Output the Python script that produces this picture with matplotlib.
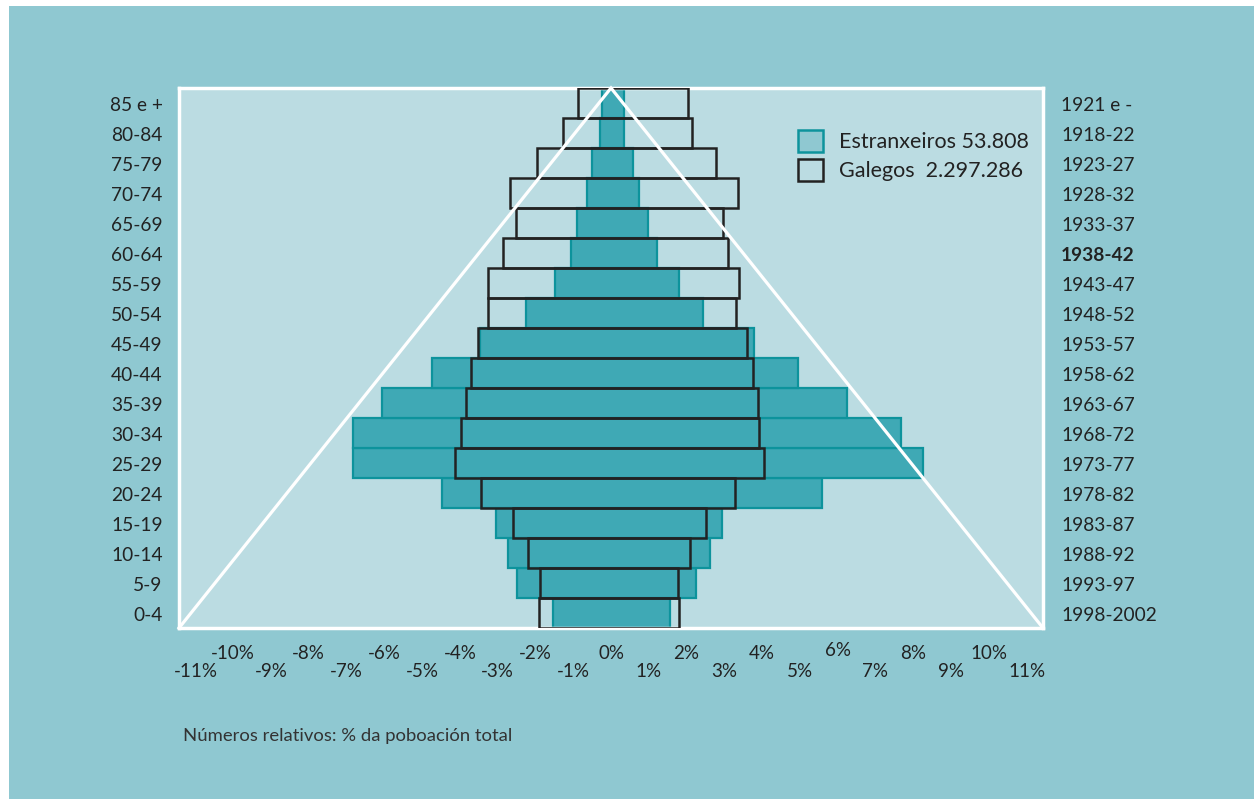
import matplotlib
matplotlib.use("Agg")
import matplotlib.pyplot as plt
from matplotlib.patches import Patch, Rectangle
from matplotlib.transforms import offset_copy
import numpy as np

# age groups, bottom to top
ages = ["0-4", "5-9", "10-14", "15-19", "20-24", "25-29", "30-34", "35-39", "40-44",
        "45-49", "50-54", "55-59", "60-64", "65-69", "70-74", "75-79", "80-84", "85 e +"]
births = ["1998-2002", "1993-97", "1988-92", "1983-87", "1978-82", "1973-77", "1968-72",
          "1963-67", "1958-62", "1953-57", "1948-52", "1943-47", "1938-42", "1933-37",
          "1928-32", "1923-27", "1918-22", "1921 e -"]
highlight = "1938-42"

# % of total population, left side (negative) and right side
estr_left = [-1.47, -2.40, -2.61, -2.93, -4.30, -6.56, -6.56, -5.82, -4.55,
             -3.34, -2.16, -1.43, -1.03, -0.86, -0.62, -0.49, -0.28, -0.22]
estr_right = [1.49, 2.16, 2.53, 2.82, 5.38, 7.94, 7.38, 6.02, 4.75,
              3.64, 2.35, 1.74, 1.16, 0.93, 0.71, 0.55, 0.33, 0.33]
gal_left = [-1.83, -1.81, -2.12, -2.50, -3.32, -3.97, -3.82, -3.69, -3.57,
            -3.38, -3.12, -3.12, -2.76, -2.42, -2.57, -1.89, -1.23, -0.83]
gal_right = [1.73, 1.71, 2.02, 2.42, 3.17, 3.90, 3.77, 3.75, 3.62,
             3.46, 3.18, 3.26, 2.98, 2.84, 3.23, 2.67, 2.07, 1.95]

xticks = list(range(-11, 12))
xticklabels = [f"{v}%" for v in xticks]

legend_labels = ["Estranxeiros 53.808", "Galegos  2.297.286"]
note = "Números relativos: % da poboación total"

outer_bg = "#8fc8d1"
inner_bg = "#bbdce2"
teal = "#3fa9b5"
teal_edge = "#0d939c"
dark = "#222222"
fam = ["Lato", "DejaVu Sans"]

W, H = 1254, 799
fig = plt.figure(figsize=(W / 100, H / 100), dpi=100)
fig.patch.set_facecolor("white")
fig.add_artist(Rectangle((9 / W, 0), 1 - 9 / W, 1 - 6 / H, transform=fig.transFigure,
                         facecolor=outer_bg, edgecolor="none", zorder=-10))

ax = fig.add_axes([179 / W, 1 - 628 / H, (1043 - 179) / W, (628 - 88) / H])
ax.set_facecolor(inner_bg)
for s in ax.spines.values():
    s.set_color("white")
    s.set_linewidth(2.5)

y = np.arange(len(ages)) + 0.5
el = np.array(estr_left)
er = np.array(estr_right)
gl = np.array(gal_left)
gr = np.array(gal_right)
ax.barh(y, er - el, left=el, height=1, color=teal, edgecolor=teal_edge, linewidth=1.6, zorder=2)
ax.barh(y, gr - gl, left=gl, height=1, facecolor="none", edgecolor=dark, linewidth=1.8, zorder=3)

# white pyramid outline
ax.plot([-11, 0, 11], [0, len(ages), 0], color="white", lw=2.3, zorder=4,
        solid_joinstyle="miter", clip_on=False)

ax.set_xlim(-11, 11)
ax.set_ylim(0, len(ages))
ax.set_xticks([])
ax.set_yticks([])

# age groups on the left, birth years on the right (nudged down a little)
ytrans = offset_copy(ax.get_yaxis_transform(), fig=fig, x=0, y=-2.5, units="dots")
for yy, lab in zip(y, ages):
    ax.text(-0.019, yy, lab, transform=ytrans, ha="right", va="center", fontsize=13.8,
            color=dark, family=fam)
for yy, lab in zip(y, births):
    ax.text(1.021, yy, lab, transform=ytrans, ha="left", va="center", fontsize=13.8,
            color=dark, family=fam, fontweight="bold" if lab == highlight else "normal")

# staggered percentage labels under the plot
trans = ax.get_xaxis_transform()
for v, lab in zip(xticks, xticklabels):
    yy = -0.048 if v % 2 == 0 else -0.080
    if v == 6:
        yy = -0.042
    ax.text(v * 0.962, yy, lab, transform=trans, ha="center", va="center",
            fontsize=13.5, color=dark, family=fam)

handles = [Patch(facecolor=outer_bg, edgecolor=teal_edge, linewidth=1.8),
           Patch(facecolor=inner_bg, edgecolor=dark, linewidth=1.8)]
leg = ax.legend(handles, legend_labels, loc="upper left", bbox_to_anchor=(0.694, 0.958),
                frameon=False, handlelength=1.15, handleheight=1.2,
                handletextpad=0.75, labelspacing=0.3, prop={"family": fam, "size": 15.5})
for t in leg.get_texts():
    t.set_color(dark)

fig.text(183 / W, 1 - 736 / H, note, ha="left", va="center", fontsize=13.3, color="#333333",
         family=fam)

fig.savefig("out.png", dpi=100, facecolor=fig.get_facecolor())
